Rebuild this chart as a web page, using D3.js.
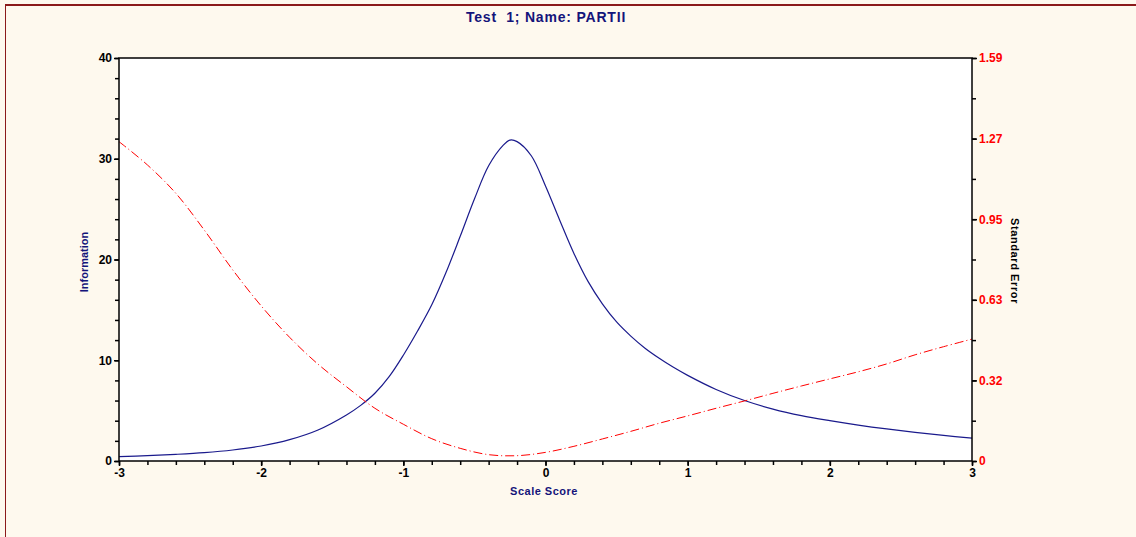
<!DOCTYPE html>
<html>
<head>
<meta charset="utf-8">
<script src="https://cdn.jsdelivr.net/npm/d3@7"></script>
<style>
  html, body { margin: 0; padding: 0; background: #fef9ee; }
  svg { display: block; }
  text { font-family: "Liberation Sans", Arial, sans-serif; font-weight: bold; }
</style>
</head>
<body>
<svg id="chart" width="1136" height="537"></svg>
<script>
// Test information and standard error across the scale score range
const scoreInfo = [-3.0, -2.8, -2.6, -2.4, -2.2, -2.0, -1.8, -1.6, -1.4, -1.3, -1.2, -1.1, -1.0, -0.9, -0.8, -0.7, -0.6, -0.5, -0.4, -0.3, -0.25, -0.2, -0.1, 0.0, 0.1, 0.2, 0.3, 0.4, 0.5, 0.6, 0.7, 0.8, 0.9, 1.0, 1.2, 1.4, 1.6, 1.8, 2.0, 2.2, 2.4, 2.6, 2.8, 3.0];
const information = [0.43, 0.53, 0.66, 0.83, 1.09, 1.49, 2.12, 3.08, 4.57, 5.52, 6.72, 8.37, 10.5, 12.9, 15.5, 18.7, 22.3, 26.0, 29.3, 31.3, 31.85, 31.7, 30.3, 27.3, 23.9, 20.6, 17.8, 15.6, 13.8, 12.4, 11.2, 10.2, 9.3, 8.5, 7.1, 6.0, 5.15, 4.5, 4.0, 3.56, 3.18, 2.85, 2.54, 2.27];

const scoreSE = [-3.0, -2.8, -2.6, -2.4, -2.2, -2.0, -1.8, -1.6, -1.4, -1.2, -1.0, -0.8, -0.6, -0.4, -0.2, 0.0, 0.2, 0.4, 0.6, 0.8, 1.0, 1.2, 1.4, 1.6, 1.8, 2.0, 2.2, 2.4, 2.6, 2.8, 3.0];
const standardError = [1.26, 1.168, 1.056, 0.911, 0.754, 0.612, 0.488, 0.382, 0.293, 0.208, 0.145, 0.088, 0.050, 0.025, 0.021, 0.034, 0.058, 0.087, 0.117, 0.149, 0.178, 0.208, 0.237, 0.267, 0.296, 0.324, 0.352, 0.383, 0.419, 0.451, 0.481];

const xTicks = [-3, -2, -1, 0, 1, 2, 3];
const infoTicks = [0, 10, 20, 30, 40];
const seTickLabels = ["0", "0.32", "0.63", "0.95", "1.27", "1.59"];

const titleText = "Test  1; Name: PARTII";
const xTitle = "Scale Score";
const yTitle = "Information";
const y2Title = "Standard Error";

const W = 1136, H = 537;
const plot = { left: 119, right: 972, top: 58, bottom: 461 };

const svg = d3.select("#chart");

// page frame
svg.append("rect").attr("x", 0).attr("y", 0).attr("width", W).attr("height", H).attr("fill", "#fef9ee");
svg.append("line").attr("x1", 5).attr("x2", W).attr("y1", 5).attr("y2", 5)
  .attr("stroke", "#8b1a1a").attr("stroke-width", 2);
svg.append("line").attr("x1", 5.5).attr("x2", 5.5).attr("y1", 4).attr("y2", H)
  .attr("stroke", "#8b1a1a").attr("stroke-width", 1);

const x = d3.scaleLinear().domain([-3, 3]).range([plot.left, plot.right]);
const yInfo = d3.scaleLinear().domain([0, 40]).range([plot.bottom, plot.top]);
const seMax = +seTickLabels[seTickLabels.length - 1];
const ySE = d3.scaleLinear().domain([0, seMax]).range([plot.bottom, plot.top]);

// plot background
svg.append("rect")
  .attr("x", plot.left).attr("y", plot.top)
  .attr("width", plot.right - plot.left).attr("height", plot.bottom - plot.top)
  .attr("fill", "#ffffff");

// curves
const infoPts = scoreInfo.map((s, i) => [s, information[i]]);
const sePts = scoreSE.map((s, i) => [s, standardError[i]]);

svg.append("path")
  .datum(infoPts)
  .attr("fill", "none")
  .attr("stroke", "#1a1a8c")
  .attr("stroke-width", 1.2)
  .attr("d", d3.line().x(d => x(d[0])).y(d => yInfo(d[1])).curve(d3.curveCatmullRom.alpha(0.5)));

svg.append("path")
  .datum(sePts)
  .attr("fill", "none")
  .attr("stroke", "#ff0000")
  .attr("stroke-width", 1)
  .attr("stroke-dasharray", "9,3,1,3")
  .attr("d", d3.line().x(d => x(d[0])).y(d => ySE(d[1])).curve(d3.curveCatmullRom.alpha(0.5)));

// frame
svg.append("rect")
  .attr("x", plot.left).attr("y", plot.top)
  .attr("width", plot.right - plot.left).attr("height", plot.bottom - plot.top)
  .attr("fill", "none").attr("stroke", "#000").attr("stroke-width", 1.5);

function styleAxis(g, color) {
  g.select(".domain").remove();
  g.selectAll(".tick line").attr("stroke", "#000").attr("stroke-width", 1.5);
  g.selectAll(".tick text").attr("fill", color).style("font-size", "12px").style("font-weight", "bold");
}

// minor ticks
const minorX = d3.range(-3, 3.0001, 0.2).map(v => +v.toFixed(2));
svg.append("g").attr("transform", `translate(0,${plot.bottom})`)
  .call(d3.axisBottom(x).tickValues(minorX).tickSize(4).tickFormat(""))
  .call(g => styleAxis(g, "#000"));
svg.append("g").attr("transform", `translate(0,${plot.bottom})`)
  .call(d3.axisBottom(x).tickValues(xTicks).tickSize(5).tickPadding(2).tickFormat(d => d3.format("d")(d).replace("−", "-")))
  .call(g => styleAxis(g, "#000"));

const minorInfo = d3.range(0, 40.001, 2);
svg.append("g").attr("transform", `translate(${plot.left},0)`)
  .call(d3.axisLeft(yInfo).tickValues(minorInfo).tickSize(4).tickFormat(""))
  .call(g => styleAxis(g, "#000"));
svg.append("g").attr("transform", `translate(${plot.left},0)`)
  .call(d3.axisLeft(yInfo).tickValues(infoTicks).tickSize(5).tickPadding(2).tickFormat(d3.format("d")))
  .call(g => styleAxis(g, "#000"));

const seStep = seMax / (seTickLabels.length - 1);
const seMajor = seTickLabels.map((_, i) => i * seStep);
const seMinor = d3.range(0, seTickLabels.length * 2 - 1).map(i => i * seStep / 2);
svg.append("g").attr("transform", `translate(${plot.right},0)`)
  .call(d3.axisRight(ySE).tickValues(seMinor).tickSize(4).tickFormat(""))
  .call(g => styleAxis(g, "#ff0000"));
svg.append("g").attr("transform", `translate(${plot.right},0)`)
  .call(d3.axisRight(ySE).tickValues(seMajor).tickSize(5).tickPadding(2).tickFormat((d, i) => seTickLabels[i]))
  .call(g => styleAxis(g, "#ff0000"));

// titles
svg.append("text")
  .attr("x", 546).attr("y", 22)
  .attr("text-anchor", "middle")
  .attr("fill", "#14147a")
  .style("font-size", "14px")
  .style("letter-spacing", "0.8px")
  .style("white-space", "pre")
  .attr("xml:space", "preserve")
  .text(titleText);

svg.append("text")
  .attr("x", 544).attr("y", 495)
  .attr("text-anchor", "middle")
  .attr("fill", "#14147a")
  .style("font-size", "11px")
  .style("letter-spacing", "0.5px")
  .text(xTitle);

svg.append("text")
  .attr("transform", "translate(88,262) rotate(-90)")
  .attr("text-anchor", "middle")
  .attr("fill", "#14147a")
  .style("font-size", "11px")
  .text(yTitle);

svg.append("text")
  .attr("transform", "translate(1011,261) rotate(90)")
  .attr("text-anchor", "middle")
  .attr("fill", "#000")
  .style("font-size", "11px")
  .style("letter-spacing", "0.6px")
  .text(y2Title);
</script>
</body>
</html>
